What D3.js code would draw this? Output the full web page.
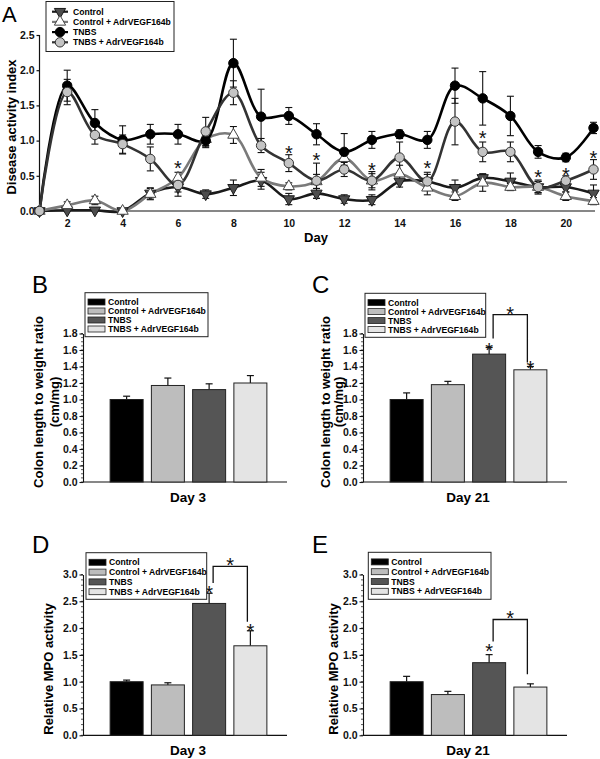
<!DOCTYPE html>
<html><head><meta charset="utf-8">
<script src="https://cdn.jsdelivr.net/npm/d3@7"></script>
<style>
body{margin:0;background:#fff}
svg text{font-family:"Liberation Sans",Arial,Helvetica,sans-serif}
</style></head>
<body><svg id="c" width="600" height="759"></svg>
<script>
// ---------- Panel A data ----------
const days = [1,2,3,4,5,6,7,8,9,10,11,12,13,14,15,16,17,18,19,20,21];
const dayTicks = [2,4,6,8,10,12,14,16,18,20];
const daiTicks = [0,0.5,1,1.5,2,2.5];
const seriesNames = ["Control","Control + AdrVEGF164b","TNBS","TNBS + AdrVEGF164b"];
const control     = [0,0.01,0.01,0,0.25,0.34,0.24,0.33,0.43,0.17,0.25,0.17,0.16,0.42,0.42,0.33,0.47,0.42,0.34,0.34,0.25];
const controlErr  = [0,0.01,0.01,0,0.08,0.13,0.06,0.11,0.12,0.08,0.07,0.06,0.07,0.08,0.1,0.11,0.06,0.12,0.08,0.07,0.12];
const controlAdr    = [0,0.08,0.15,0,0.24,0.47,1.02,1.08,0.47,0.35,0.42,0.75,0.43,0.53,0.33,0.21,0.4,0.34,0.34,0.21,0.14];
const controlAdrErr = [0,0.05,0.06,0,0.08,0.08,0.1,0.12,0.12,0.05,0.1,0.1,0.1,0.12,0.1,0.06,0.12,0.05,0.1,0.06,0.05];
const tnbs    = [0,1.78,1.25,1.01,1.09,1.09,1.0,2.1,1.34,1.35,1.09,0.84,1.01,1.09,1.01,1.78,1.6,1.35,0.84,0.76,1.18];
const tnbsErr = [0,0.22,0.19,0.2,0.14,0.14,0.1,0.34,0.39,0.12,0.15,0.26,0.12,0.06,0.12,0.25,0.38,0.28,0.09,0.06,0.08];
const tnbsAdr    = [0,1.69,1.08,0.95,0.74,0.37,1.13,1.68,0.93,0.68,0.43,0.59,0.43,0.76,0.42,1.27,0.84,0.84,0.34,0.43,0.59];
const tnbsAdrErr = [0,0.18,0.13,0.13,0.17,0.1,0.2,0.17,0.1,0.12,0.25,0.1,0.13,0.22,0.13,0.33,0.14,0.14,0.08,0.07,0.14];
const starDays   = [6,10,11,13,15,17,19,20,21];
const starValues = [0.68,0.895,0.795,0.653,0.68,1.108,0.554,0.582,0.824];

// ---------- Bar panels data ----------
const groups = ["Control","Control + AdrVEGF164b","TNBS","TNBS + AdrVEGF164b"];
const colonTicks = [0,0.2,0.4,0.6,0.8,1.0,1.2,1.4,1.6,1.8];
const mpoTicks = [0,0.5,1.0,1.5,2.0,2.5,3.0];
const colonDay3     = [1.0,1.17,1.12,1.2];
const colonDay3Err  = [0.04,0.09,0.07,0.09];
const colonDay21    = [1.0,1.18,1.55,1.36];
const colonDay21Err = [0.08,0.04,0.08,0.04];
const mpoDay3       = [1.0,0.94,2.46,1.67];
const mpoDay3Err    = [0.03,0.04,0.19,0.28];
const mpoDay21      = [1.0,0.76,1.355,0.9];
const mpoDay21Err   = [0.1,0.06,0.15,0.06];
// significance marks: [group index, value]
const colonDay21Stars = [[2,1.66],[3,1.44]];
const mpoDay3Stars    = [[2,2.74],[3,2.03]];
const mpoDay21Stars   = [[2,1.65]];
// brackets: [top, left-leg bottom, right-leg bottom, star]
const colonDay21Bracket = [2.03,1.74,1.45,2.09];
const mpoDay3Bracket    = [3.15,2.84,2.12,3.27];
const mpoDay21Bracket   = [2.16,1.75,1.14,2.28];

// ---------- drawing ----------
const svg = d3.select("#c");
const barColors = ["#000000","#bdbdbd","#555555","#e4e4e4"];

function star(g, x, y, fs){
  g.append("text").attr("x", x).attr("y", y + 0.58*fs).attr("text-anchor","middle")
    .attr("font-size", fs).attr("fill","#111").text("*");
}

// ===== Panel A =====
(function(){
  const g = svg.append("g");
  const x = d3.scaleLinear().domain([1,21]).range([39.5,593.5]);
  const y = d3.scaleLinear().domain([0,2.5]).range([211,35]);

  g.append("text").attr("x",2).attr("y",22).attr("font-size",22).text("A");

  const ya = g.append("g").attr("transform","translate(39.5,0)")
    .call(d3.axisLeft(y).tickValues(daiTicks).tickFormat(d3.format(".1f")).tickSize(3).tickSizeOuter(0).tickPadding(2));
  ya.selectAll("text").attr("font-size",10.5).attr("font-weight","bold").attr("fill","#111");
  ya.selectAll("line,path").attr("stroke","#111").attr("stroke-width",1.2);
  ya.select(".domain").attr("d","M0,211V35");

  const xa = g.append("g").attr("transform","translate(0,211)")
    .call(d3.axisBottom(x).tickValues(dayTicks).tickSize(0).tickSizeOuter(0).tickPadding(9));
  xa.selectAll("text").attr("font-size",10.5).attr("font-weight","bold").attr("fill","#111");
  xa.select(".domain").attr("stroke","#111").attr("stroke-width",1.2).attr("d","M39.5,0H595");

  g.append("text").attr("x",316).attr("y",242).attr("text-anchor","middle")
    .attr("font-size",13).attr("font-weight","bold").text("Day");
  g.append("text").attr("transform","translate(11,127) rotate(-90)").attr("dy","0.35em")
    .attr("text-anchor","middle").attr("font-size",13).attr("font-weight","bold").text("Disease activity index");

  const series = [
    {vals:control, err:controlErr, line:"#1a1a1a", sym:"down", fill:"#4d4d4d", stroke:"#1a1a1a"},
    {vals:controlAdr, err:controlAdrErr, line:"#7a7a7a", sym:"up", fill:"#ffffff", stroke:"#444"},
    {vals:tnbs, err:tnbsErr, line:"#000000", sym:"circle", fill:"#000000", stroke:"#000"},
    {vals:tnbsAdr, err:tnbsAdrErr, line:"#333333", sym:"circle", fill:"#c4c4c4", stroke:"#333"}
  ];
  const symPath = {
    down: d3.symbol().type(d3.symbolTriangle).size(55),
    up: d3.symbol().type(d3.symbolTriangle).size(55),
    circle: d3.symbol().type(d3.symbolCircle).size(70)
  };
  function drawSym(sel, s){
    sel.append("path").attr("d", symPath[s.sym]())
      .attr("transform", s.sym==="down" ? "rotate(180)" : null)
      .attr("fill", s.fill).attr("stroke", s.stroke).attr("stroke-width",1);
  }
  const line = d3.line().x((d,i)=>x(days[i])).y(d=>y(d)).curve(d3.curveCatmullRom.alpha(0.5));
  series.forEach(s=>{
    g.append("path").attr("d", line(s.vals)).attr("fill","none").attr("stroke", s.line).attr("stroke-width",2.6);
  });
  series.forEach(s=>{
    const eb = g.append("g").attr("stroke","#111").attr("stroke-width",1.1);
    s.vals.forEach((v,i)=>{
      if(!s.err[i]) return;
      const cx = x(days[i]), t = y(v + s.err[i]), b = y(Math.max(0, v - s.err[i]));
      eb.append("line").attr("x1",cx).attr("x2",cx).attr("y1",t).attr("y2",b);
      eb.append("line").attr("x1",cx-3.5).attr("x2",cx+3.5).attr("y1",t).attr("y2",t);
      eb.append("line").attr("x1",cx-3.5).attr("x2",cx+3.5).attr("y1",b).attr("y2",b);
    });
  });
  series.forEach(s=>{
    s.vals.forEach((v,i)=>{
      drawSym(g.append("g").attr("transform",`translate(${x(days[i])},${y(v)})`), s);
    });
  });
  starDays.forEach((d,i)=> star(g, x(d), y(starValues[i]), 20));

  // legend
  const lg = g.append("g");
  lg.append("rect").attr("x",46).attr("y",1.5).attr("width",128).attr("height",50)
    .attr("fill","#fff").attr("stroke","#222").attr("stroke-width",1);
  series.forEach((s,i)=>{
    const yy = 11.7 + i*10.2;
    lg.append("line").attr("x1",52).attr("x2",68).attr("y1",yy).attr("y2",yy).attr("stroke",s.line).attr("stroke-width",2.2);
    drawSym(lg.append("g").attr("transform",`translate(60,${yy})`), s);
    lg.append("text").attr("x",73).attr("y",yy).attr("dy","0.35em").attr("font-size",8.6)
      .attr("font-weight","bold").text(seriesNames[i]);
  });
})();

// ===== Bar panels =====
function barPanel(o){
  const g = svg.append("g");
  const x = d3.scaleBand().domain(groups).range([o.ax+23, o.ax+188]).paddingInner(0.2).paddingOuter(0.1);
  const y = d3.scaleLinear().domain([0, o.ticks[o.ticks.length-1]]).range([o.y0, o.yTop]);

  g.append("text").attr("x",o.ax-51).attr("y",o.letterY).attr("font-size",24).text(o.letter);

  // minor ticks
  const minor = g.append("g").attr("stroke","#333").attr("stroke-width",0.8);
  const top = o.ticks[o.ticks.length-1];
  const n = Math.round(top / o.minorStep);
  for(let k=0;k<=n;k++){
    const yy = y(k*o.minorStep);
    minor.append("line").attr("x1",o.ax-2).attr("x2",o.ax).attr("y1",yy).attr("y2",yy);
  }
  const ya = g.append("g").attr("transform",`translate(${o.ax},0)`)
    .call(d3.axisLeft(y).tickValues(o.ticks).tickFormat(d3.format(".1f")).tickSize(3.5).tickSizeOuter(0).tickPadding(2));
  ya.selectAll("text").attr("font-size",10.5).attr("font-weight","bold").attr("fill","#111");
  ya.selectAll("line,path").attr("stroke","#111").attr("stroke-width",1.1);

  g.append("line").attr("x1",o.ax).attr("x2",o.ax+204).attr("y1",o.y0).attr("y2",o.y0)
    .attr("stroke","#111").attr("stroke-width",1.2);

  // bars
  o.vals.forEach((v,i)=>{
    const bx = x(groups[i]), bw = x.bandwidth(), cx = bx + bw/2;
    const et = y(v + o.err[i]);
    g.append("line").attr("x1",cx).attr("x2",cx).attr("y1",y(v)).attr("y2",et).attr("stroke","#111").attr("stroke-width",1.2);
    g.append("line").attr("x1",cx-3.5).attr("x2",cx+3.5).attr("y1",et).attr("y2",et).attr("stroke","#111").attr("stroke-width",1.2);
    g.append("rect").attr("x",bx).attr("y",y(v)).attr("width",bw).attr("height",o.y0-y(v))
      .attr("fill",barColors[i]).attr("stroke","#222").attr("stroke-width",1);
  });

  (o.stars||[]).forEach(s=>{
    star(g, x(groups[s[0]]) + x.bandwidth()/2, y(s[1]), 20);
  });
  if(o.bracket){
    const b = o.bracket;
    const lx = x(groups[2]) + x.bandwidth()/2 + 4;
    const rx = x(groups[3]) + x.bandwidth()/2 - 3;
    g.append("path").attr("d",`M${lx},${y(b[1])}V${y(b[0])}H${rx}V${y(b[2])}`)
      .attr("fill","none").attr("stroke","#111").attr("stroke-width",1.3);
    star(g, (lx+rx)/2, y(b[3]), 20);
  }

  g.append("text").attr("x",o.ax+105).attr("y",o.titleY).attr("text-anchor","middle")
    .attr("font-size",13.5).attr("font-weight","bold").text(o.title);
  o.ylab.forEach((t,i)=>{
    g.append("text").attr("transform",`translate(${o.ylabX[i]},${o.ylabY}) rotate(-90)`).attr("dy","0.35em")
      .attr("text-anchor","middle").attr("font-size",13).attr("font-weight","bold").text(t);
  });

  // legend
  const L = o.legend;
  g.append("rect").attr("x",L[0]).attr("y",L[1]).attr("width",L[2]).attr("height",L[3])
    .attr("fill","#fff").attr("stroke","#222").attr("stroke-width",1);
  groups.forEach((name,i)=>{
    const yy = L[1] + L[4] + i*L[5];
    g.append("rect").attr("x",L[0]+3).attr("y",yy-3).attr("width",17).attr("height",6)
      .attr("fill",barColors[i]).attr("stroke","#222").attr("stroke-width",0.8);
    g.append("text").attr("x",L[0]+23).attr("y",yy).attr("dy","0.35em").attr("font-size",8.6)
      .attr("font-weight","bold").text(name);
  });
}

barPanel({letter:"B", letterY:292.5, ax:83, y0:482, yTop:333.5, ticks:colonTicks, minorStep:0.05,
  vals:colonDay3, err:colonDay3Err, title:"Day 3", titleY:502,
  ylab:["Colon length to weight ratio","(cm/mg)"], ylabX:[38,54], ylabY:402,
  legend:[85,292.7,123,44,9.3,9]});
barPanel({letter:"C", letterY:292.5, ax:363, y0:482, yTop:333.5, ticks:colonTicks, minorStep:0.05,
  vals:colonDay21, err:colonDay21Err, title:"Day 21", titleY:502,
  stars:colonDay21Stars, bracket:colonDay21Bracket,
  ylab:["Colon length to weight ratio","(cm/mg)"], ylabX:[325,338], ylabY:402,
  legend:[365,293.3,120.7,44,9.3,9]});
barPanel({letter:"D", letterY:552.5, ax:83, y0:735.3, yTop:574.5, ticks:mpoTicks, minorStep:0.1,
  vals:mpoDay3, err:mpoDay3Err, title:"Day 3", titleY:755,
  stars:mpoDay3Stars, bracket:mpoDay3Bracket,
  ylab:["Relative MPO activity"], ylabX:[48], ylabY:669,
  legend:[86,552.7,120.7,46.6,9.6,9.8]});
barPanel({letter:"E", letterY:552.5, ax:363, y0:735.3, yTop:574.5, ticks:mpoTicks, minorStep:0.1,
  vals:mpoDay21, err:mpoDay21Err, title:"Day 21", titleY:755,
  stars:mpoDay21Stars, bracket:mpoDay21Bracket,
  ylab:["Relative MPO activity"], ylabX:[333], ylabY:669,
  legend:[368.3,552.3,122.7,47,9.6,9.8]});
</script></body></html>
